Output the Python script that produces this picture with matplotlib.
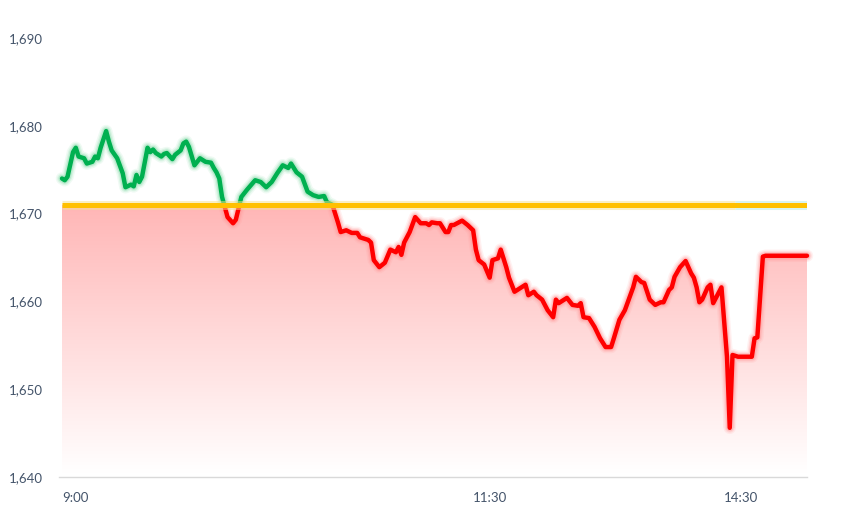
import numpy as np
import matplotlib
matplotlib.use("Agg")
import matplotlib.pyplot as plt
from matplotlib.patches import Rectangle
from matplotlib.colors import to_rgb

# ---- data (minutes since 8:55 on trading axis, price) ----
minutes = [0, 1, 2, 4, 5, 6, 8, 9, 11, 12,
           13, 14, 16, 17, 18, 20, 22, 23, 25, 26,
           27, 28, 29, 31, 32, 33, 34, 36, 37, 38,
           40, 41, 43, 44, 45, 46, 48, 50, 52, 54,
           55, 56, 57, 58, 60, 62, 63, 65, 67, 70,
           72, 74, 76, 78, 80, 82, 83, 85, 87, 89,
           91, 93, 95, 96, 98, 100, 101, 103, 105, 107,
           108, 111, 112, 113, 115, 117, 119, 121, 122, 123,
           124, 126, 128, 130, 132, 133, 134, 136, 137, 139,
           140, 141, 142, 145, 147, 149, 150, 151, 153, 155,
           156, 158, 159, 161, 162, 164, 166, 168, 169, 171,
           172, 174, 176, 178, 179, 180, 183, 185, 187, 188,
           189, 191, 193, 195, 197, 199, 200, 202, 204, 207,
           208, 210, 211, 213, 215, 217, 218, 220, 221, 222,
           224, 226, 228, 229, 230, 231, 232, 234, 235, 236,
           238, 239, 241, 242, 243, 245, 247, 250, 251, 252,
           254, 255, 270]
prices = [1674.0, 1673.8, 1674.2, 1677.0, 1677.5, 1676.5, 1676.3, 1675.7, 1675.9, 1676.5,
          1676.3, 1677.5, 1679.4, 1678.2, 1677.2, 1676.3, 1674.6, 1673.0, 1673.3, 1673.1,
          1674.4, 1673.6, 1674.2, 1677.5, 1677.0, 1677.3, 1676.9, 1676.5, 1676.8, 1676.9,
          1676.2, 1676.7, 1677.2, 1678.0, 1678.2, 1677.6, 1675.5, 1676.3, 1675.9, 1675.8,
          1675.2, 1674.7, 1674.0, 1671.9, 1669.6, 1668.9, 1669.3, 1671.9, 1672.7, 1673.8,
          1673.6, 1673.0, 1673.6, 1674.6, 1675.5, 1675.2, 1675.7, 1674.7, 1674.2, 1672.5,
          1672.1, 1671.9, 1672.0, 1671.3, 1671.0, 1669.0, 1667.9, 1668.1, 1667.8, 1667.8,
          1667.3, 1667.0, 1666.7, 1664.7, 1663.9, 1664.4, 1665.9, 1665.6, 1666.2, 1665.3,
          1666.7, 1667.9, 1669.6, 1668.9, 1668.9, 1668.7, 1669.0, 1668.9, 1668.9, 1667.9,
          1667.9, 1668.7, 1668.7, 1669.2, 1668.7, 1668.1, 1665.9, 1664.7, 1664.2, 1662.7,
          1664.7, 1664.9, 1665.9, 1663.9, 1662.7, 1661.1, 1661.5, 1661.9, 1660.7, 1661.1,
          1660.7, 1660.2, 1659.0, 1658.2, 1660.2, 1659.8, 1660.4, 1659.6, 1659.5, 1659.8,
          1658.2, 1658.1, 1657.1, 1655.8, 1654.8, 1654.8, 1655.8, 1657.9, 1659.0, 1661.6,
          1662.8, 1662.2, 1662.1, 1660.2, 1659.6, 1659.9, 1659.9, 1661.3, 1661.6, 1662.8,
          1663.9, 1664.6, 1663.2, 1662.7, 1661.6, 1659.9, 1660.2, 1661.6, 1661.9, 1659.8,
          1661.0, 1661.6, 1653.7, 1645.6, 1653.9, 1653.7, 1653.7, 1653.7, 1655.8, 1655.9,
          1665.1, 1665.2, 1665.2]
base_price = 1671.0
y_ticks = [1640, 1650, 1660, 1670, 1680, 1690]
x_tick_pos = [5, 155, 246]
x_tick_labels = ["9:00", "11:30", "14:30"]
x_min, x_max = 0, 270
y_min, y_max = 1640, 1690

x = np.array(minutes, dtype=float)
y = np.array(prices, dtype=float)

plt.rcParams['font.family'] = ['Lato', 'DejaVu Sans']

fig = plt.figure(figsize=(8.46, 5.13), dpi=100)
ax = fig.add_axes([62/846, 36/513, (807-62)/846, (477-38)/513])
ax.set_xlim(x_min, x_max)
ax.set_ylim(y_min, y_max)

# ---- gradient fill below min(price, base) ----
fill_top = np.minimum(y, base_price)
poly = ax.fill_between(x, fill_top, y_min, color='none', lw=0)
path = poly.get_paths()[0]
n = 256
alpha = np.linspace(0.29, 0.0, n)[:, None]
grad = np.zeros((n, 1, 4))
grad[..., 0] = 1.0
grad[..., 1] = 0.0
grad[..., 2] = 0.0
grad[..., 3] = alpha
im = ax.imshow(grad, extent=(x_min, x_max, y_min, base_price), origin='upper',
               aspect='auto', interpolation='bicubic', zorder=1)
im.set_clip_path(path, transform=ax.transData)

# ---- price line: green above base, red below, with glow ----
def draw_line(color, glow, clip_rect):
    for lw, a in [(9, 0.12), (7, 0.2), (5.2, 0.35)]:
        ln, = ax.plot(x, y, color=glow, lw=lw, alpha=a, solid_capstyle='round',
                      solid_joinstyle='round', zorder=3)
        ln.set_clip_path(clip_rect)
    ln, = ax.plot(x, y, color=color, lw=3.2, solid_capstyle='round',
                  solid_joinstyle='round', zorder=4)
    ln.set_clip_path(clip_rect)

above = Rectangle((x_min - 10, base_price), x_max - x_min + 20, 100,
                  transform=ax.transData)
below = Rectangle((x_min - 10, base_price - 100), x_max - x_min + 20, 100,
                  transform=ax.transData)
draw_line('#00B050', '#7FD8A4', above)
draw_line('#FF0000', '#FF9090', below)

# ---- base line ----
split = 244
ax.plot([x_min, split], [base_price, base_price], color='#F5E08A', lw=6.5,
        alpha=0.5, zorder=5, solid_capstyle='butt')
ax.plot([split, x_max], [base_price, base_price], color='#BFEDE6', lw=6.5,
        alpha=0.6, zorder=5, solid_capstyle='butt')
ax.plot([x_min, x_max], [base_price, base_price], color='#FFC000', lw=3.6,
        zorder=6, solid_capstyle='butt')

# ---- axes styling ----
for s in ['top', 'right', 'left']:
    ax.spines[s].set_visible(False)
ax.spines['bottom'].set_color('#D9D9D9')
ax.spines['bottom'].set_linewidth(1.0)
ax.spines['bottom'].set_bounds(x_min - 1.1, x_max)
ax.set_yticks(y_ticks)
ax.set_yticklabels([f"{v:,}" for v in y_ticks])
ax.set_xticks(x_tick_pos)
ax.set_xticklabels(x_tick_labels)
ax.tick_params(axis='y', length=0, pad=14, labelsize=9.5, labelcolor='#44546A')
ax.tick_params(axis='x', length=0, pad=11, labelsize=9.5, labelcolor='#44546A')
ax.grid(False)

fig.savefig('out.png', dpi=100)
